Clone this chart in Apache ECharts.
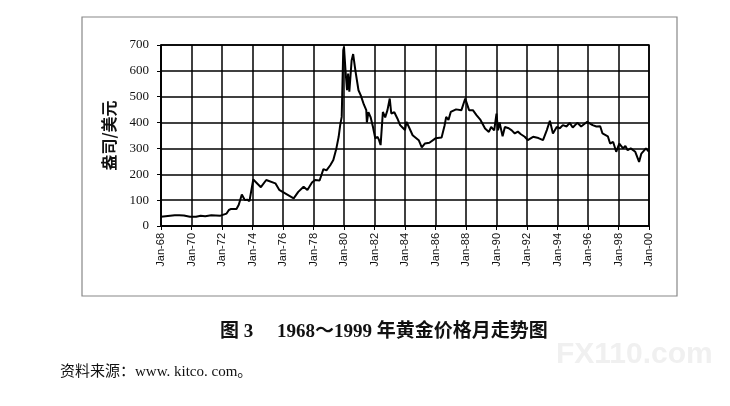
<!DOCTYPE html>
<html>
<head>
<meta charset="utf-8">
<script src="https://cdn.jsdelivr.net/npm/echarts@6/dist/echarts.min.js"></script>
<style>
html,body{margin:0;padding:0;background:#fff;}
#main{width:730px;height:406px;}
</style>
</head>
<body>
<div id="main"></div>
<script>
// 横轴：年份（小数表示月份位置），纵轴：金价（美元/盎司）
var years = [1968.0,1968.3,1968.6,1968.9,1969.2,1969.5,1969.9,1970.0,1970.3,1970.6,1970.9,1971.3,1971.6,1971.9,
	1972.0,1972.3,1972.45,1972.6,1972.95,1973.1,1973.3,1973.5,1973.65,1973.8,1974.05,1974.55,1974.9,1975.5,1975.75,
	1976.7,1977.0,1977.35,1977.6,1977.9,1978.1,1978.4,1978.65,1978.85,1979.1,1979.3,1979.5,1979.65,1979.75,1979.85,
	1979.95,1980.0,1980.1,1980.2,1980.27,1980.35,1980.5,1980.6,1980.75,1980.95,1981.1,1981.3,1981.46,1981.5,1981.6,
	1981.75,1981.9,1982.05,1982.2,1982.3,1982.4,1982.55,1982.7,1982.85,1983.0,1983.1,1983.3,1983.5,1983.68,1983.85,
	1984.0,1984.1,1984.3,1984.5,1984.9,1985.1,1985.3,1985.6,1986.0,1986.4,1986.6,1986.7,1986.85,1987.0,1987.35,
	1987.7,1987.95,1988.2,1988.45,1988.7,1988.95,1989.25,1989.5,1989.65,1989.85,1990.0,1990.1,1990.2,1990.4,1990.55,
	1990.8,1991.0,1991.2,1991.4,1991.6,1991.85,1992.05,1992.4,1992.75,1993.05,1993.3,1993.5,1993.7,1993.95,1994.15,
	1994.35,1994.6,1994.8,1995.0,1995.3,1995.55,1995.95,1996.3,1996.55,1996.8,1996.95,1997.3,1997.45,1997.65,1997.85,
	1998.05,1998.3,1998.45,1998.6,1998.8,1999.1,1999.35,1999.5,1999.8,2000.0];
var prices = [36,38,40,42,42,41,36,34,36,40,38,42,41,40,
	42,48,62,66,66,82,122,100,102,96,180,150,178,165,140,
	107,132,152,139,168,178,176,220,215,235,255,300,345,390,422,
	680,692,600,525,590,519,640,665,600,525,505,470,448,400,440,
	420,383,339,345,332,313,441,420,448,493,435,440,416,390,380,
	371,403,377,351,332,304,319,322,339,342,390,422,410,441,451,
	448,493,448,448,428,410,377,364,383,370,435,370,400,347,383,
	378,370,358,365,355,345,332,345,340,332,371,407,358,383,378,
	390,385,399,381,399,385,403,390,385,386,358,347,319,325,287,
	319,300,310,293,300,287,248,280,300,287];
var yTicks = [0,100,200,300,400,500,600,700];

var chartData = [];
for (var i = 0; i < years.length; i++) {
	chartData.push([years[i], prices[i]]);
}

var myChart = echarts.init(document.getElementById('main'));
var option = {
	backgroundColor: '#fff',
	animation: false,
	grid: {
		left: 161, right: 81, top: 45, bottom: 180,
		show: true, borderColor: '#000', borderWidth: 1.5
	},
	title: [{
		text: '图 3　 1968～1999 年黄金价格月走势图',
		left: 215, top: 318,
		textStyle: { fontFamily: '"Liberation Serif","Noto Sans CJK SC"', fontSize: 19, fontWeight: 'bold', color: '#111' }
	}, {
		text: '资料来源：www. kitco. com。',
		left: 55, top: 360,
		textStyle: { fontFamily: '"Liberation Serif","Noto Sans CJK SC"', fontSize: 15, fontWeight: 'normal', color: '#111' }
	}],
	graphic: [{
		type: 'rect',
		shape: { x: 82, y: 17, width: 595, height: 279 },
		style: { fill: 'none', stroke: '#888', lineWidth: 1.2 },
		silent: true
	}, {
		type: 'text',
		left: 556, top: 340,
		style: { text: 'FX110.com', fill: '#f0f0f0', font: 'bold 30px "Liberation Sans"' },
		silent: true
	}],
	xAxis: {
		type: 'value',
		min: 1968, max: 2000, interval: 2,
		axisLine: { show: true, lineStyle: { color: '#000', width: 1.5 } },
		axisTick: { show: true, length: 4, lineStyle: { color: '#000' } },
		splitLine: { show: true, lineStyle: { color: '#000', width: 1.5 } },
		axisLabel: {
			rotate: 90, margin: 7, color: '#111',
			fontFamily: '"Liberation Sans"', fontSize: 11,
			formatter: function (v) { return 'Jan-' + String(v).substr(2, 2); }
		}
	},
	yAxis: {
		type: 'value',
		min: yTicks[0], max: yTicks[yTicks.length - 1], interval: 100,
		name: '盎司/美元', nameLocation: 'middle', nameGap: 44,
		nameTextStyle: { fontFamily: '"Noto Sans CJK SC"', fontSize: 16, fontWeight: 'bold', color: '#111' },
		axisLine: { show: true, lineStyle: { color: '#000', width: 1.5 } },
		axisTick: { show: true, length: 4, lineStyle: { color: '#000' } },
		splitLine: { show: true, lineStyle: { color: '#000', width: 1.5 } },
		axisLabel: { margin: 12, color: '#111', fontFamily: '"Liberation Serif"', fontSize: 13 }
	},
	series: [{
		name: '金价', type: 'line', data: chartData,
		showSymbol: false, symbol: 'none',
		lineStyle: { color: '#000', width: 2 }
	}]
};
myChart.setOption(option);
</script>
</body>
</html>
